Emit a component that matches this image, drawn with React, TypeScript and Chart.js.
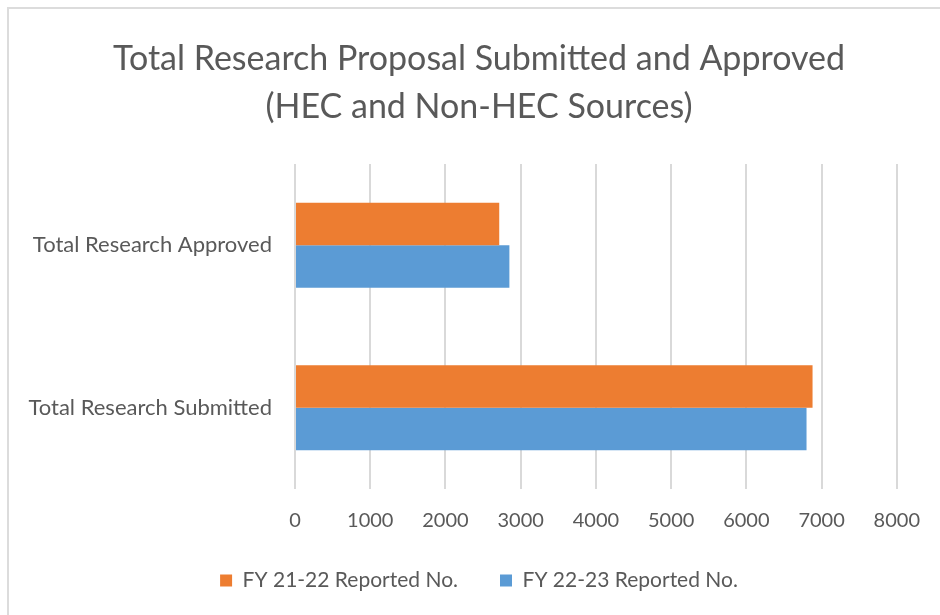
import React, { useEffect, useRef } from "react";
import { Chart, registerables } from "chart.js";

Chart.register(...registerables);

const titleLines = ["Total Research Proposal Submitted and Approved", "(HEC and Non-HEC Sources)"];
const categories = ["Total Research Approved", "Total Research Submitted"];
const seriesNames = ["FY 21-22 Reported No.", "FY 22-23 Reported No."];
const fy2122Values = [2715, 6880];
const fy2223Values = [2850, 6800];
const xTickValues = [0, 1000, 2000, 3000, 4000, 5000, 6000, 7000, 8000];

const ORANGE = "#ED7D31";
const BLUE = "#5B9BD5";
const TEXT = "#595959";
const GRID = "#D9D9D9";
const FONT = "Lato, 'Open Sans', sans-serif";

export default function App() {
  const ref = useRef<HTMLCanvasElement | null>(null);

  useEffect(() => {
    if (!ref.current) return;
    const framePlugin = {
      id: "frame",
      afterLayout(chart: any) {
        // let the long category labels extend left of the padded area
        if (chart.scales.y) chart.scales.y.left = 8;
      },
      beforeDraw(chart: any) {
        const ctx = chart.ctx;
        ctx.save();
        ctx.fillStyle = "#ffffff";
        ctx.fillRect(0, 0, chart.width, chart.height);
        ctx.strokeStyle = "#DCDCDC";
        ctx.lineWidth = 2;
        ctx.beginPath();
        ctx.moveTo(8, chart.height);
        ctx.lineTo(8, 8);
        ctx.lineTo(chart.width, 8);
        ctx.stroke();
        ctx.restore();
      },
    };

    const chart = new Chart(ref.current, {
      type: "bar",
      data: {
        labels: categories,
        datasets: [
          {
            label: seriesNames[0],
            data: fy2122Values,
            backgroundColor: ORANGE,
            categoryPercentage: 0.523,
            barPercentage: 1,
          },
          {
            label: seriesNames[1],
            data: fy2223Values,
            backgroundColor: BLUE,
            categoryPercentage: 0.523,
            barPercentage: 1,
          },
        ],
      },
      options: {
        indexAxis: "y",
        responsive: false,
        animation: false,
        layout: { padding: { left: 61, right: 43, top: 8, bottom: 14 } },
        scales: {
          x: {
            min: 0,
            max: 8000,
            afterBuildTicks: (s: any) => {
              s.ticks = xTickValues.map((v) => ({ value: v }));
            },
            afterFit: (s: any) => {
              s.height = 39;
            },
            ticks: {
              color: TEXT,
              font: { family: FONT, size: 20 },
              padding: 20,
              maxRotation: 0,
              callback: (v: any) => String(v),
            },
            grid: { color: GRID, lineWidth: 2, drawTicks: false },
            border: { display: false },
          },
          y: {
            afterFit: (s: any) => {
              s.width = 234;
            },
            ticks: {
              color: TEXT,
              font: { family: FONT, size: 22 },
              padding: 23,
            },
            grid: { display: false, drawTicks: false },
            border: { display: false },
          },
        },
        plugins: {
          title: {
            display: true,
            text: titleLines,
            color: TEXT,
            font: { family: FONT, size: 34, weight: "normal", lineHeight: 48 / 34 },
            padding: { top: 27, bottom: 33 },
          },
          legend: {
            position: "bottom",
            labels: {
              color: TEXT,
              font: { family: FONT, size: 21 },
              boxWidth: 12,
              boxHeight: 12,
              padding: 42,
            },
          },
          tooltip: { enabled: false },
        },
      },
      plugins: [framePlugin],
    } as any);

    return () => chart.destroy();
  }, []);

  return (
    <canvas
      ref={ref}
      width={940}
      height={615}
      style={{ position: "fixed", left: 0, top: 0, width: 940, height: 615 }}
    />
  );
}
